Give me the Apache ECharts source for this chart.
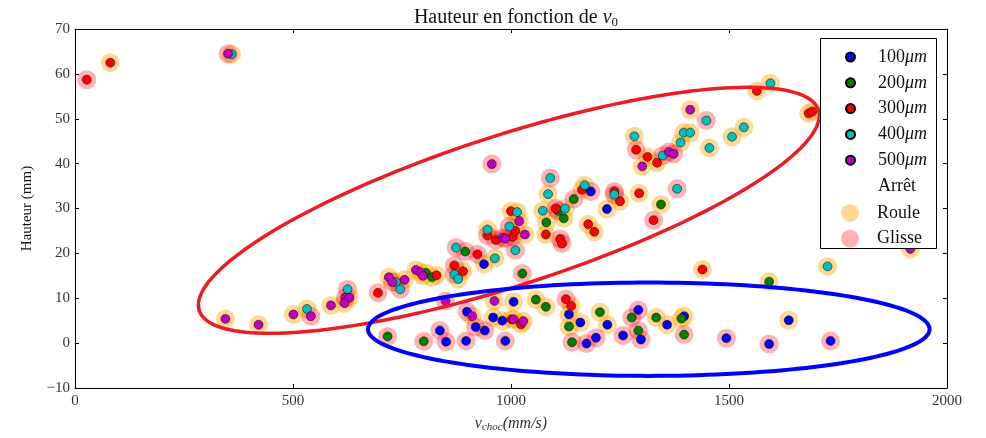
<!DOCTYPE html>
<html>
<head>
<meta charset="utf-8">
<script src="https://cdn.jsdelivr.net/npm/echarts@6/dist/echarts.min.js"></script>
<style>
html, body { margin: 0; padding: 0; background: #fff; }
#chart { width: 986px; height: 438px; }
</style>
</head>
<body>
<div id="chart"></div>
<script>
// tailles de grains et etats
var sizeNames = ['100μm', '200μm', '300μm', '400μm', '500μm'];
var sizeColors = ['#0000ff', '#008000', '#ff0000', '#00bfbf', '#bf00bf'];
var motionNames = ['Arrêt', 'Roule', 'Glisse'];
var xTicks = [0, 500, 1000, 1500, 2000];
var yTicks = [-10, 0, 10, 20, 30, 40, 50, 60, 70];

// [v_choc (mm/s), hauteur (mm), etat R=Roule G=Glisse]
var pts100 = [
	[938, 17.6, 'R'], [1183, 33.8, 'G'], [1220, 29.9, 'R'], [1006, 9.2, 'R'], [959, 5.7, 'R'],
	[980, 5.0, 'R'], [899, 7.0, 'G'], [919, 3.6, 'G'], [940, 2.8, 'G'], [837, 2.8, 'G'],
	[851, 0.3, 'G'], [897, 0.5, 'G'], [987, 0.5, 'G'], [1133, 6.4, 'R'], [1159, 4.6, 'R'],
	[1173, -0.1, 'G'], [1195, 1.2, 'G'], [1221, 4.1, 'R'], [1257, 1.7, 'G'], [1292, 7.4, 'G'],
	[1298, 0.8, 'G'], [1358, 4.1, 'R'], [1397, 6.0, 'R'], [1494, 1.1, 'G'], [1592, -0.2, 'G'],
	[1637, 5.1, 'R'], [1733, 0.5, 'G']
];
var pts200 = [
	[805, 15.6, 'R'], [819, 14.7, 'R'], [895, 20.4, 'G'], [1026, 15.5, 'G'], [1108, 29.5, 'G'],
	[1121, 27.8, 'R'], [1081, 26.9, 'R'], [1144, 32.1, 'G'], [1344, 30.9, 'R'], [717, 1.5, 'G'],
	[800, 0.4, 'G'], [1057, 9.7, 'R'], [1080, 8.1, 'R'], [1133, 3.7, 'R'], [1140, 0.2, 'G'],
	[1204, 6.9, 'R'], [1277, 5.7, 'G'], [1292, 2.8, 'G'], [1333, 5.7, 'R'], [1391, 5.5, 'R'],
	[1397, 1.9, 'G'], [1592, 13.7, 'R']
];
var pts300 = [
	[27, 58.7, 'G'], [81, 62.5, 'R'], [695, 11.2, 'G'], [829, 15.1, 'R'], [870, 17.3, 'G'],
	[890, 16.0, 'R'], [923, 19.8, 'G'], [946, 24.0, 'G'], [965, 23.0, 'G'], [1004, 23.7, 'G'],
	[1010, 25.0, 'R'], [1000, 29.4, 'R'], [1103, 30.0, 'G'], [1080, 24.2, 'R'], [1113, 23.2, 'G'],
	[1117, 22.2, 'G'], [1163, 34.2, 'R'], [1177, 26.5, 'R'], [1191, 24.8, 'R'], [1237, 33.8, 'G'],
	[1250, 31.6, 'R'], [1294, 33.4, 'R'], [1327, 27.4, 'G'], [1287, 43.1, 'G'], [1313, 41.5, 'R'],
	[1335, 40.2, 'R'], [1564, 56.2, 'R'], [1683, 51.2, 'R'], [1691, 51.6, 'R'], [1730, 49.5, 'G'],
	[1126, 9.8, 'G'], [1138, 8.3, 'R'], [1001, 5.3, 'R'], [1023, 4.2, 'R'], [1439, 16.4, 'R']
];
var pts400 = [
	[359, 64.4, 'R'], [532, 7.6, 'R'], [625, 12.0, 'G'], [736, 13.6, 'R'], [746, 12.0, 'G'],
	[870, 15.3, 'G'], [879, 14.3, 'R'], [874, 21.3, 'G'], [963, 18.9, 'R'], [946, 25.3, 'R'],
	[996, 26.0, 'G'], [1014, 29.2, 'R'], [1010, 20.7, 'G'], [1090, 36.8, 'G'], [1085, 33.2, 'R'],
	[1073, 29.5, 'R'], [1124, 30.0, 'R'], [1169, 35.2, 'R'], [1237, 33.1, 'G'], [1381, 34.4, 'G'],
	[1455, 43.5, 'R'], [1348, 41.8, 'G'], [1389, 44.7, 'R'], [1283, 46.1, 'R'], [1396, 46.9, 'R'],
	[1411, 46.9, 'R'], [1448, 49.6, 'G'], [1507, 46.0, 'R'], [1534, 48.1, 'R'], [1595, 57.9, 'R'],
	[1726, 17.1, 'R']
];
var pts500 = [
	[351, 64.5, 'G'], [345, 5.4, 'R'], [421, 4.1, 'R'], [501, 6.4, 'R'], [541, 6.0, 'G'],
	[587, 8.4, 'R'], [620, 10.1, 'G'], [629, 10.1, 'R'], [618, 8.9, 'R'], [720, 14.7, 'R'],
	[728, 13.6, 'G'], [756, 14.1, 'R'], [782, 16.3, 'R'], [792, 15.8, 'R'], [798, 15.0, 'R'],
	[981, 23.5, 'G'], [987, 23.3, 'G'], [1019, 27.2, 'R'], [1032, 24.2, 'R'], [956, 39.9, 'G'],
	[1301, 39.4, 'R'], [1362, 42.6, 'G'], [1373, 42.2, 'G'], [1411, 52.0, 'R'], [850, 9.4, 'G'],
	[911, 6.0, 'R'], [962, 9.4, 'R'], [1006, 5.3, 'R'], [1028, 4.9, 'R'], [1916, 21.0, 'R']
];
var allPts = [pts100, pts200, pts300, pts400, pts500];

// ellipses : centre, demi-axe a, demi-axe b (coordonnees des donnees)
var ellipseRed = [995, 29.6, 712, 21.1, 0, -17.5];
var ellipseBlue = [1316, 3.1, 644, 0, 0, 10.4];
var ellipseColors = ['#ec1c24', '#0000ff'];
var ellipseWidths = [3.5, 4];

var serif = 'Liberation Serif';
var myChart = echarts.init(document.getElementById('chart'));

// points d'un etat donne (halos)
function motionData(code) {
	var res = [];
	for (var i = 0; i < allPts.length; i++) {
		for (var j = 0; j < allPts[i].length; j++) {
			if (allPts[i][j][2] == code) {
				res.push([allPts[i][j][0], allPts[i][j][1]]);
			}
		}
	}
	return res;
}

function renderEllipse(params, api) {
	var cx = api.value(0), cy = api.value(1);
	var ax = api.value(2), ay = api.value(3), bx = api.value(4), by = api.value(5);
	var pts = [];
	for (var i = 0; i < 180; i++) {
		var t = i / 180 * 2 * Math.PI;
		pts.push(api.coord([cx + ax * Math.cos(t) + bx * Math.sin(t), cy + ay * Math.cos(t) + by * Math.sin(t)]));
	}
	return {
		type : 'polygon',
		shape : { points : pts },
		style : {
			fill : 'none',
			stroke : ellipseColors[params.dataIndex],
			lineWidth : ellipseWidths[params.dataIndex]
		}
	};
}

var series = [];
// Arret : pas de marqueur visible
series.push({
	name : 'Arrêt', type : 'scatter', data : [],
	itemStyle : { color : 'rgba(255,255,255,0)' }
});
series.push({
	name : 'Roule', type : 'scatter', symbolSize : 19, data : motionData('R'),
	itemStyle : { color : 'rgba(255,165,0,0.42)', opacity : 1 }, silent : true
});
series.push({
	name : 'Glisse', type : 'scatter', symbolSize : 19, data : motionData('G'),
	itemStyle : { color : 'rgba(255,0,0,0.3)', opacity : 1 }, silent : true
});
for (var k = 0; k < sizeNames.length; k++) {
	var d = [];
	for (var j = 0; j < allPts[k].length; j++) {
		d.push([allPts[k][j][0], allPts[k][j][1]]);
	}
	series.push({
		name : sizeNames[k], type : 'scatter', symbolSize : 9, data : d,
		itemStyle : { color : sizeColors[k], borderColor : '#000', borderWidth : 0.5, opacity : 1 }
	});
}
series.push({
	type : 'custom', renderItem : renderEllipse, z : 5, silent : true,
	data : [ellipseRed, ellipseBlue]
});

var legendRich = {
	n : { fontFamily : serif, fontSize : 18, color : '#111' },
	u : { fontFamily : serif, fontSize : 18, fontStyle : 'italic', color : '#111' }
};
function legendFormatter(name) {
	if (name.indexOf('μm') > 0) {
		return '{n|' + name.replace('μm', '') + '}{u|μm}';
	}
	return '{n|' + name + '}';
}
// format des graduations : pas de separateur de milliers, vrai signe moins
function tickFormatter(v) {
	return String(v).replace('-', '\u2212');
}

var option = {
	animation : false,
	title : {
		text : 'Hauteur en fonction de {i|v}{s|0}',
		left : 511, top : 2, textAlign : 'center',
		textStyle : {
			fontFamily : serif, fontSize : 20, fontWeight : 'normal', color : '#111',
			rich : {
				i : { fontFamily : serif, fontSize : 20, fontStyle : 'italic', color : '#111' },
				s : { fontFamily : serif, fontSize : 13, color : '#111', padding : [9, 0, 0, 0] }
			}
		}
	},
	grid : { left : 75, right : 39, top : 29, bottom : 45 },
	graphic : [{
		type : 'rect', z : 10,
		shape : { x : 820.5, y : 38.5, width : 116, height : 210 },
		style : { fill : '#fff', stroke : '#000', lineWidth : 1 }
	}],
	legend : [{
		z : 20, data : sizeNames.concat(['Arrêt']), orient : 'vertical',
		left : 840, top : 42, itemWidth : 9, itemHeight : 9, itemGap : 5.8,
		selectedMode : false, formatter : legendFormatter,
		textStyle : { fontFamily : serif, fontSize : 18, lineHeight : 20, padding : [0, 0, 0, 18], rich : legendRich }
	}, {
		z : 20, data : ['Roule', 'Glisse'], orient : 'vertical',
		left : 836, top : 198, itemWidth : 18, itemHeight : 18, itemGap : 5.6,
		selectedMode : false, formatter : legendFormatter,
		textStyle : { fontFamily : serif, fontSize : 18, lineHeight : 20, padding : [0, 0, 0, 13], rich : legendRich }
	}],
	xAxis : [{
		type : 'value', min : xTicks[0], max : xTicks[xTicks.length - 1], interval : 500,
		name : '{i|v}{s|choc}{i|(mm/s)}', nameLocation : 'middle', nameGap : 27,
		nameTextStyle : {
			rich : {
				i : { fontFamily : serif, fontSize : 16, fontStyle : 'italic', color : '#333' },
				s : { fontFamily : serif, fontSize : 11, fontStyle : 'italic', color : '#333', padding : [7, 0, 0, 0] }
			}
		},
		axisLine : { onZero : false, lineStyle : { color : '#000', width : 1 } },
		axisTick : { inside : true, length : 4, lineStyle : { color : '#000' } },
		axisLabel : { fontFamily : serif, fontSize : 15, color : '#333', margin : 6, formatter : tickFormatter },
		splitLine : { show : false }
	}, {
		type : 'value', position : 'top', min : xTicks[0], max : xTicks[xTicks.length - 1], interval : 500,
		axisLine : { onZero : false, lineStyle : { color : '#000', width : 1 } },
		axisTick : { inside : true, length : 4, lineStyle : { color : '#000' } },
		axisLabel : { show : false }, splitLine : { show : false }
	}],
	yAxis : [{
		type : 'value', min : yTicks[0], max : yTicks[yTicks.length - 1], interval : 10,
		name : 'Hauteur (mm)', nameLocation : 'middle', nameGap : 40,
		nameTextStyle : { fontFamily : serif, fontSize : 15, color : '#111' },
		axisLine : { onZero : false, lineStyle : { color : '#000', width : 1 } },
		axisTick : { inside : true, length : 4, lineStyle : { color : '#000' } },
		axisLabel : { fontFamily : serif, fontSize : 15, color : '#333', margin : 5, formatter : tickFormatter },
		splitLine : { show : false }
	}, {
		type : 'value', position : 'right', min : yTicks[0], max : yTicks[yTicks.length - 1], interval : 10,
		axisLine : { onZero : false, lineStyle : { color : '#000', width : 1 } },
		axisTick : { inside : true, length : 4, lineStyle : { color : '#000' } },
		axisLabel : { show : false }, splitLine : { show : false }
	}],
	series : series
};
myChart.setOption(option);
</script>
</body>
</html>
